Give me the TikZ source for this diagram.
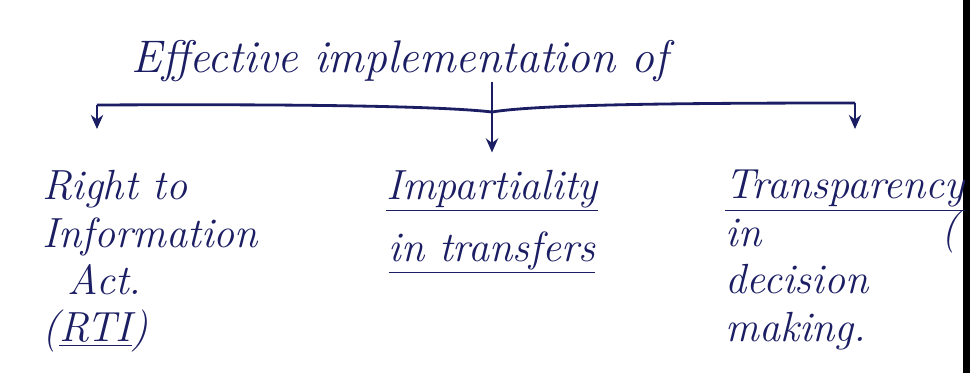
\documentclass[tikz,border=0pt]{standalone}
\usepackage{tikz}
\usetikzlibrary{arrows.meta,positioning}
\definecolor{ink}{RGB}{28,30,100}

\begin{document}
\begin{tikzpicture}[x=0.02cm,y=-0.02cm,
    hand/.style={text=ink, font=\fontsize{24}{27}\selectfont\itshape, inner sep=0pt},
    branch/.style={ink, line width=1.6pt, -{Stealth[length=8pt,width=7pt]}}]
    % Page and its dark edge
    \useasboundingbox (0,0) rectangle (970,373);
    \fill[white] (0,0) rectangle (970,373);
    \fill[black] (963,0) rectangle (970,373);

    % Heading
    \node[hand, font=\fontsize{26}{30}\selectfont\itshape, anchor=base] (title) at (400,72) {Effective implementation of};

    % Three outcomes
    \node[hand, anchor=north west, align=left] (rti) at (42,170)
        {Right to\\Information\\\hspace*{0.6em}Act.\\(\underline{RTI})};
    \node[hand, anchor=north, align=center] (impart) at (492,170)
        {\underline{Impartiality}\\[8pt]\underline{in transfers}};
    \node[hand, anchor=north west, align=left] (transp) at (725,170)
        {\underline{Transparency}\\in\\decision\\making.};
    \node[hand] (paren) at (950,232) {(};

    % Branches
    \coordinate (left) at (97,105);
    \coordinate (mid) at (492,112);
    \coordinate (right) at (855,103);
    \draw[ink, line width=1.6pt] (left) .. controls (300,104) and (440,106) .. (mid)
        .. controls (540,104) and (700,103) .. (right);
    \draw[branch] (left) -- ++(0,24);
    \draw[branch] (right) -- ++(0,26);
    \draw[branch, shorten >=10pt] (title.south -| mid) -- (impart.north -| mid);
\end{tikzpicture}
\end{document}
